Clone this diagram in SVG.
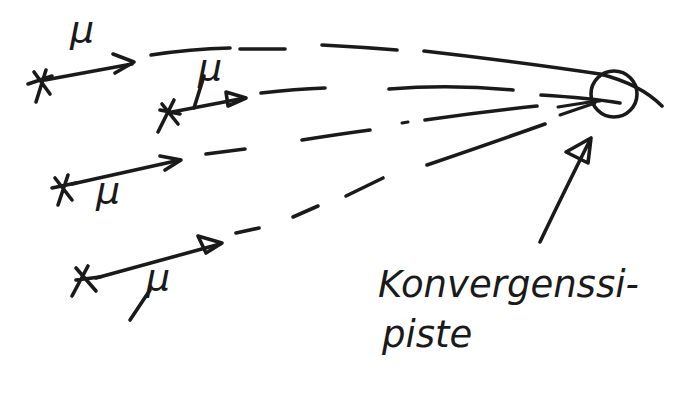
<svg xmlns="http://www.w3.org/2000/svg" width="690" height="398" viewBox="0 0 690 398">
<style>
.ink{fill:none;stroke:#1a1a1a;stroke-width:3.6;stroke-linecap:round;stroke-linejoin:round}
.thin{fill:none;stroke:#1a1a1a;stroke-width:3;stroke-linecap:round;stroke-linejoin:round}
.mu{font-family:"DejaVu Sans",sans-serif;font-style:italic;font-size:38px;fill:#1a1a1a}
.lbl{font-family:"DejaVu Sans",sans-serif;font-style:italic;font-size:37px;fill:#1a1a1a}
</style>
<rect width="690" height="398" fill="#fff"/>
<g id="source1">
<path class="ink" d="M28 84 L52 76 M36 102 L46 70 M34 72 L50 94"/>
<path class="ink" d="M45 80 L132 64"/>
<path class="ink" d="M113 54 L134 62 L115 73"/>
<text class="mu" x="70" y="42">μ</text>
</g>
<g id="source2">
<path class="ink" d="M160 110 L180 114 M158 132 L174 100 M162 104 L178 124"/>
<path class="ink" d="M172 112 L245 98"/>
<path class="ink" d="M226 92 L246 98 L228 106 Z" fill="#1a1a1a"/>
<path class="ink" d="M194 108 L204 76"/>
<text class="mu" x="198" y="80" font-size="30">μ</text>
</g>
<g id="source3">
<path class="ink" d="M52 188 L76 183 M58 205 L68 175 M55 178 L72 200"/>
<path class="ink" d="M72 184 L180 160"/>
<path class="ink" d="M160 156 L181 160 L165 170"/>
<text class="mu" x="96" y="203">μ</text>
</g>
<g id="source4">
<path class="ink" d="M76 280 L100 277 M72 296 L88 266 M76 268 L96 291"/>
<path class="ink" d="M96 278 L220 244"/>
<path class="ink" d="M198 236 L222 243 L206 253 Z"/>
<path class="ink" d="M130 320 L150 290"/>
<text class="mu" x="146" y="290">μ</text>
</g>
<g id="convergence">
<circle class="ink" cx="614" cy="94" r="23"/>
</g>
<g id="connectors">
<path class="ink" d="M151 55 Q190 49 230 48"/>
<path class="ink" d="M240 49 L285 49"/>
<path class="ink" d="M322 45 Q360 47 397 50"/>
<path class="ink" d="M424 51 Q520 62 600 74 Q640 84 662 106"/>
<path class="ink" d="M261 93 Q295 89 325 88"/>
<path class="ink" d="M389 89 Q450 84 513 90"/>
<path class="ink" d="M541 95 Q590 98 620 103"/>
<path class="ink" d="M206 154 L245 149"/>
<path class="ink" d="M302 140 Q340 134 370 130"/>
<path class="thin" d="M402 123 L408 122"/>
<path class="ink" d="M425 120 Q480 112 537 106"/>
<path class="thin" d="M558 107 L590 102 L600 101"/>
<path class="ink" d="M236 233 L259 228"/>
<path class="ink" d="M293 217 L318 206"/>
<path class="ink" d="M346 196 L383 178"/>
<path class="ink" d="M427 165 Q500 140 545 124"/>
<path class="thin" d="M560 115 L595 103"/>
<path class="ink" d="M540 242 Q560 200 590 140"/>
<path class="ink" d="M566 152 L591 138 L588 163 Z"/>
</g>
<g id="label">
<text class="lbl" x="378" y="297">Konvergenssi-</text>
<text class="lbl" x="382" y="347">piste</text>
</g>
</svg>
